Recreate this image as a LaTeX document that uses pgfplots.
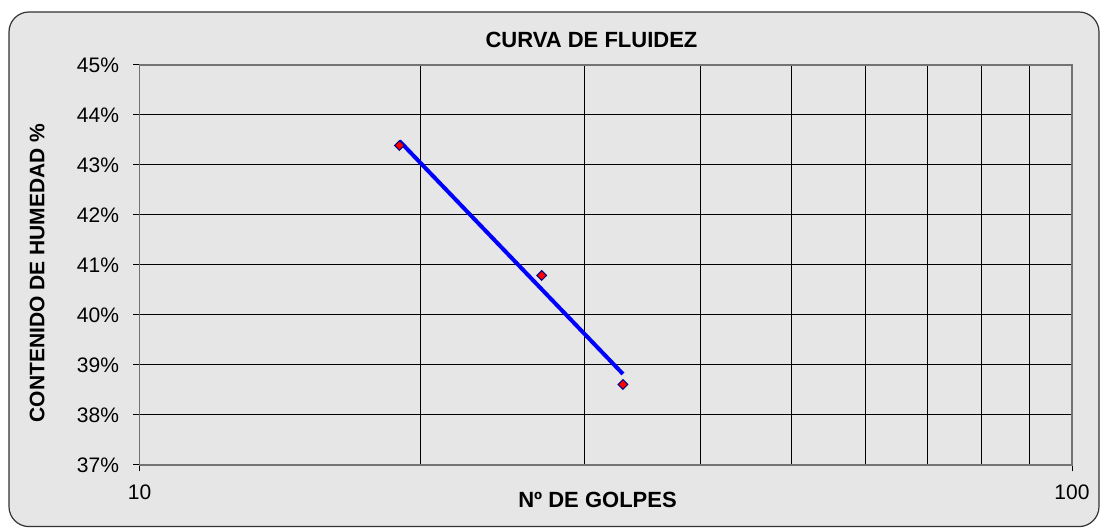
\documentclass[border=0pt]{standalone}
\usepackage{fontspec}
\setmainfont{Liberation Sans}
\usepackage{pgfplots}
\pgfplotsset{compat=1.18}
\definecolor{bgc}{HTML}{E6E6E6}
\definecolor{mkedge}{HTML}{000080}
\begin{document}
\begin{tikzpicture}
\path[use as bounding box] (0,0) rectangle (550pt,264pt);
\fill[white] (0,0) rectangle (550pt,264pt);
\draw[fill=bgc, draw=black!80, line width=0.6pt, rounded corners=10pt] (4.5pt,0.7pt) rectangle (549.5pt,258pt);
\begin{axis}[
  at={(69.75pt,31.5pt)}, anchor=south west,
  scale only axis, width=466.25pt, height=200pt,
  xmode=log, xmin=10, xmax=100, ymin=37, ymax=45,
  log basis x=10,
  xtick={10,100}, xticklabels={10,100},
  minor xtick={20,30,40,50,60,70,80,90},
  ytick={37,38,...,45},
  yticklabel={\pgfmathprintnumber{\tick}\%},
  /pgf/number format/assume math mode=true,
  xtick pos=bottom, ytick pos=left,
  xmajorgrids=true, xminorgrids=true, ymajorgrids=true,
  grid style={black, line width=0.5pt},
  minor grid style={black, line width=0.5pt},
  axis line style={draw=black!55, line width=0.8pt},
  tick align=outside, major tick length=3.25pt, minor tick length=0pt,
  tick style={black, line width=0.5pt},
  ticklabel style={font=\fontsize{10.5}{12}\selectfont},
  yticklabel style={xshift=-3.5pt},
  xticklabel style={yshift=-3.25pt},
  every axis title shift=0pt,
  title={\textbf{CURVA DE FLUIDEZ}},
  title style={font=\fontsize{11}{13}\selectfont, at={(axis description cs:0.4847,1)}, anchor=center, yshift=12.5pt},
  xlabel={\textbf{Nº DE GOLPES}},
  xlabel style={font=\fontsize{11}{13}\selectfont, at={(axis description cs:0.4912,0)}, anchor=center, yshift=-17.5pt},
  ylabel={\textbf{CONTENIDO DE HUMEDAD \%}},
  ylabel style={font=\fontsize{10.5}{12}\selectfont, at={(axis description cs:-0.1099,0.48)}, anchor=center},
  clip=false,
]
\addplot[blue, line width=2pt, no marks] coordinates {(19,43.48) (33,38.82)};
\addplot[only marks, mark=square*, mark size=1.7pt, mark options={fill=red, draw=mkedge, line width=0.5pt, rotate=45}] coordinates {(19,43.39) (27,40.79) (33,38.61)};
\end{axis}
\end{tikzpicture}
\end{document}
